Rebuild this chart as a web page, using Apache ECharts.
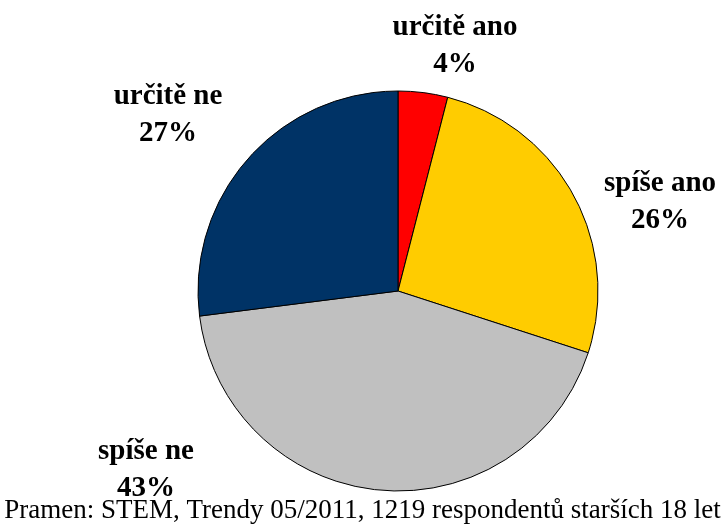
<!DOCTYPE html>
<html>
<head>
<meta charset="utf-8">
<script src="https://cdn.jsdelivr.net/npm/echarts@6/dist/echarts.min.js"></script>
<style>
  html, body { margin: 0; padding: 0; background: #fff; }
  #chart { width: 725px; height: 529px; }
</style>
</head>
<body>
<div id="chart"></div>
<script>
// odpovědi (po směru hodinových ručiček od 12 hodin)
const categories = ['určitě ano', 'spíše ano', 'spíše ne', 'určitě ne']
const values = [4, 26, 43, 27]
const colors = ['#FF0000', '#FFCC00', '#C0C0C0', '#003366']
const sourceText = 'Pramen: STEM, Trendy 05/2011, 1219 respondentů starších 18 let'

// kam dát popisky (střed textu)
const labelPos = [[455, 46], [660, 202], [146, 470], [168, 115]]

const chart = echarts.init(document.getElementById('chart'))
const option = {
  animation: false,
  graphic: [{
    type: 'text',
    left: 'center',
    top: 497,
    style: {
      text: sourceText,
      font: '27px "Liberation Serif"',
      fill: '#000'
    }
  }],
  series: [{
    type: 'pie',
    center: [398, 291],
    radius: 200,
    startAngle: 90,
    clockwise: true,
    data: categories.map((name, i) => ({
      name: name,
      value: values[i],
      itemStyle: { color: colors[i] }
    })),
    itemStyle: { borderColor: '#000', borderWidth: 1 },
    label: {
      show: true,
      position: 'inside',
      overflow: 'none',
      formatter: p => p.name + '\n' + p.value + '%',
      fontFamily: 'Liberation Serif',
      fontWeight: 'bold',
      fontSize: 29,
      lineHeight: 37,
      color: '#000',
      align: 'center'
    },
    labelLine: { show: false },
    labelLayout: params => ({
      x: labelPos[params.dataIndex][0],
      y: labelPos[params.dataIndex][1],
      align: 'center',
      verticalAlign: 'middle'
    }),
    emphasis: { disabled: true }
  }]
}
chart.setOption(option)
</script>
</body>
</html>
